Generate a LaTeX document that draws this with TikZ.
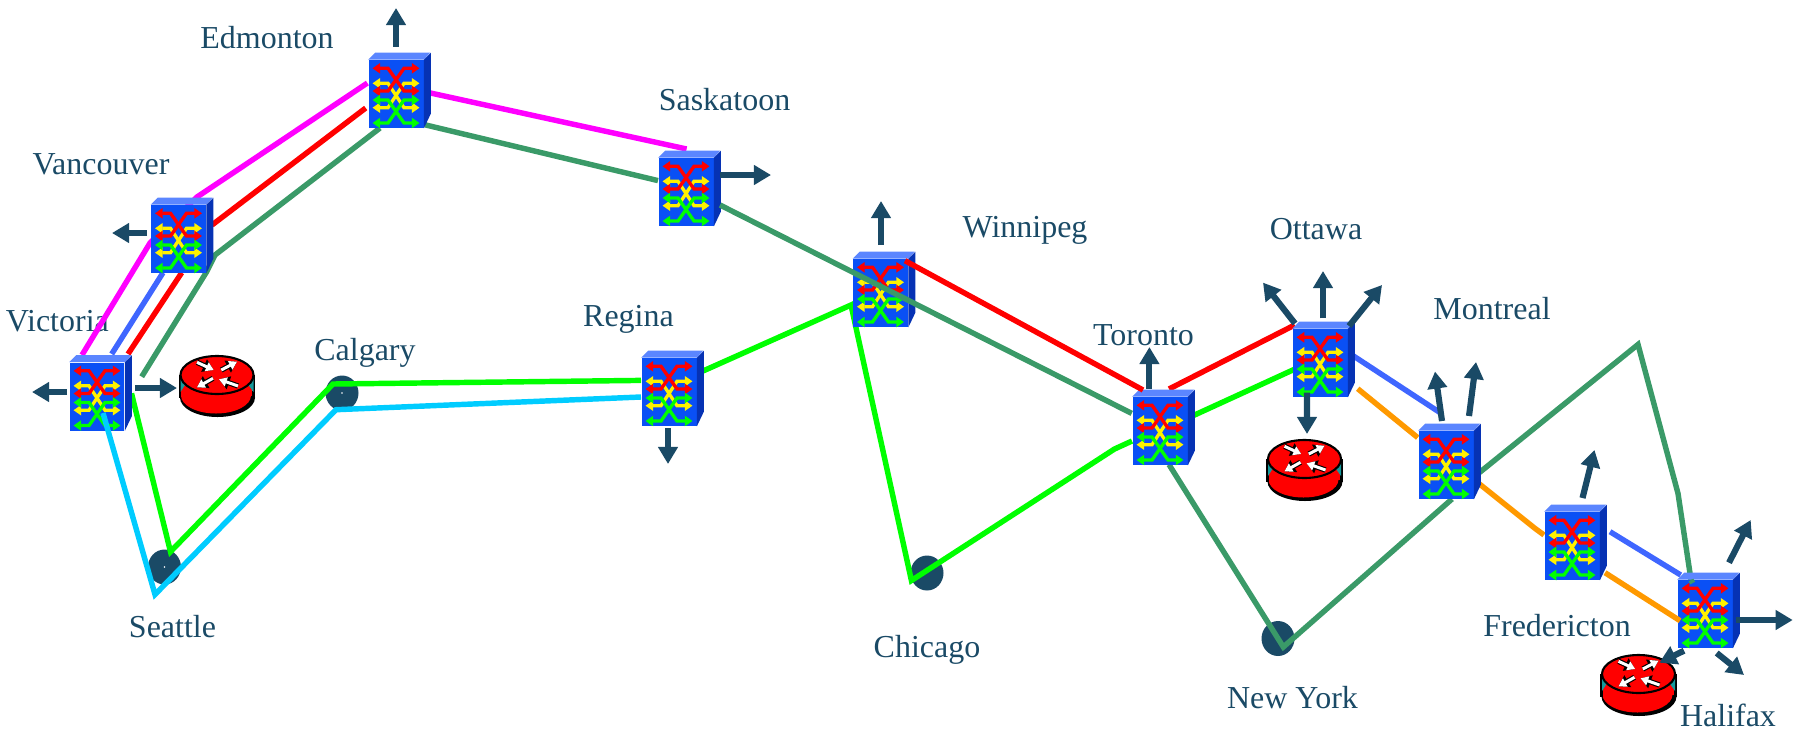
\documentclass[tikz,border=0pt]{standalone}
\usepackage{fontspec}
\setmainfont{Liberation Serif}
\usetikzlibrary{arrows.meta,shapes.geometric}
\pgfdeclarelayer{under}
\pgfsetlayers{under,main}
\definecolor{ink}{HTML}{1A4A66}
\definecolor{sg}{HTML}{3A9A68}
\definecolor{rb}{HTML}{3F66FF}
\definecolor{cy}{HTML}{00CCFF}
\definecolor{mg}{HTML}{FF00FF}
\definecolor{og}{HTML}{FF9900}
\definecolor{gn}{HTML}{00FF00}
\definecolor{rd}{HTML}{FF0000}
\definecolor{faceblue}{HTML}{0A50F5}
\definecolor{topblue}{HTML}{5B86FF}
\definecolor{sideblue}{HTML}{0632B4}
\definecolor{tealish}{HTML}{159A9C}
\tikzset{
  swbox/.style={rectangle,fill=faceblue,inner sep=0pt,minimum width=1.1cm,minimum height=1.36cm},
  rtbox/.style={rectangle,inner sep=0pt,minimum width=1.5cm,minimum height=1.22cm},
  city/.style={anchor=base,inner sep=0pt,text=ink,font=\fontsize{18.2}{20}\selectfont},
  disc/.style={ellipse,fill=ink,inner sep=0pt,minimum width=0.66cm,minimum height=0.70cm},
  link/.style={line width=3.1pt},
  outarrow/.style={draw=ink,line width=3.5pt,-{Triangle[length=9.7pt,width=10.8pt]}},
  xline/.style={line width=1.9pt,{Triangle[length=4.4pt,width=5.8pt]}-{Triangle[length=4.4pt,width=5.8pt]}},
  wblack/.style={draw=black,line width=3pt,-{Triangle[length=6pt,width=7.4pt]}},
  wwhite/.style={draw=white,line width=1.7pt,-{Triangle[length=4.4pt,width=5.2pt]}}
}
\newcommand\xglyph[3]{%
  \draw[xline,#1] (-23.5,#2) -- (-8,#2) -- (8,#3) -- (23.5,#3);
  \draw[xline,#1] (23.5,#2) -- (8,#2) -- (-8,#3) -- (-23.5,#3);
}
\newcommand\oxc[3]{%
  \node[swbox] (#1) at (#2,#3) {};
  \fill[topblue] (#1.north west) -- ++(7,-7) -- ++(55,0) -- (#1.north east) -- cycle;
  \fill[sideblue] (#1.north east) -- ++(7,-7) -- ++(0,61) -- (#1.south east) -- cycle;
  \begin{scope}[shift={(#1.center)}]
    \xglyph{yellow}{-10.7}{13.7}
    \xglyph{rd}{-25.7}{-3}
    \xglyph{gn}{6}{29}
  \end{scope}
}
\newcommand\routericon[3]{%
  \node[rtbox] (#1) at (#2,#3) {};
  \begin{scope}[shift={(#1.center)}]
    \fill[black] (0.5,11.5) ellipse [x radius=37.5, y radius=19.5];
    \fill[rd] (-1,9.5) ellipse [x radius=35, y radius=18];
    \fill[rd] (-36,-11) rectangle (35,10);
    \draw[line width=1.2pt] (-37,-11) -- (-37,12);
    \draw[line width=1.6pt] (37,-11) -- (37,12);
    \fill[tealish] (-36.5,-7) -- (-32,-1) -- (-36.5,6) -- cycle;
    \fill[tealish] (36.5,-7) -- (31.5,-1) -- (36.5,6) -- cycle;
    \draw[fill=rd,line width=1.2pt] (0,-11) ellipse [x radius=36.5, y radius=19];
    \foreach \ax/\ay/\bx/\by in {-20/-23.7/-3.3/-16, 4.3/-16/20/-24.3, -4/-7.7/-20/1.3, 21/0/2/-6.7}{
      \draw[wblack] (\ax,\ay) -- (\bx,\by);
      \draw[wwhite] (\ax,\ay) -- (\bx,\by);
    }
  \end{scope}
}
\begin{document}
\begin{tikzpicture}[x=0.02cm,y=-0.02cm]
\useasboundingbox (0,0) rectangle (1797,730);
% switches
\oxc{vic}{97}{396.5}
\oxc{van}{178.5}{239}
\oxc{edm}{396}{94}
\oxc{sas}{686}{192}
\oxc{reg}{669}{392}
\oxc{win}{880.5}{293}
\oxc{tor}{1160}{431}
\oxc{ott}{1320}{363}
\oxc{mon}{1446}{465}
\oxc{fre}{1572}{546}
\oxc{hal}{1705}{614}
% routers
\routericon{rv}{217}{386}
\routericon{ro}{1304.5}{470}
\routericon{rh}{1638.5}{685}
\begin{pgfonlayer}{under}
% labels
\node[city] (lEdm) at (267,48.9) {Edmonton};
\node[city] (lSas) at (724.5,110.8) {Saskatoon};
\node[city] (lVan) at (101,174.6) {Vancouver};
\node[city] (lVic) at (57.4,331.5) {Victoria};
\node[city] (lCal) at (365,360.8) {Calgary};
\node[city] (lReg) at (628.5,326) {Regina};
\node[city] (lSea) at (172.5,637.8) {Seattle};
\node[city] (lChi) at (927,657) {Chicago};
\node[city] (lWin) at (1025,237.4) {Winnipeg};
\node[city] (lOtt) at (1316,239.8) {Ottawa};
\node[city] (lTor) at (1143.5,345.4) {Toronto};
\node[city] (lMon) at (1492,319) {Montreal};
\node[city] (lFre) at (1557,636.4) {Fredericton};
\node[city] (lNY) at (1292.5,708.6) {New York};
\node[city] (lHal) at (1728,726) {Halifax};
% discs
\node[disc] (sea) at (164.5,567) {};
\node[disc] (cal) at (342,393) {};
\node[disc] (chi) at (927,573) {};
\node[disc] (ny) at (1278,638.5) {};
\fill[white] (sea.center) circle (0.8);
\fill[white] (cal.center) circle (0.8);
% links under the switches
\draw[link,mg] ([shift={(-15,-41.5)}]vic.center) -- (150,243) -- (197,197) -- ([shift={(-28.6,-11)}]edm.center);
\draw[link,mg] ([shift={(34.5,-1)}]edm.center) -- ([shift={(0.6,-43)}]sas.center);
\draw[link,rd] ([shift={(31,-42.5)}]vic.center) -- ([shift={(3.2,33.7)}]van.center);
\draw[link,rd] ([shift={(33.5,-14)}]van.center) -- ([shift={(-30.3,14)}]edm.center);
\draw[link,rb] ([shift={(14.7,-42.5)}]vic.center) -- ([shift={(-15.5,33.7)}]van.center);
\draw[link,sg] ([shift={(44.7,-19.8)}]vic.center) -- ([shift={(28.2,32.7)}]van.center) -- (215,255) -- ([shift={(-16,34)}]edm.center);
\draw[link,sg] ([shift={(29,30.8)}]edm.center) -- ([shift={(-28,-11.4)}]sas.center);
\draw[link,gn] ([shift={(34.5,-3.1)}]vic.center) -- ([shift={(6,-15.3)}]sea.center) -- ([shift={(-9,-9)}]cal.center) -- ([shift={(-28,-11.6)}]reg.center);
\draw[link,gn] ([shift={(34,-21)}]reg.center) -- ([shift={(-29.5,12)}]win.center) -- ([shift={(-15.6,7.5)}]chi.center) -- (1114.5,449) -- ([shift={(-28,10)}]tor.center);
\draw[link,rd] ([shift={(9,-42)}]tor.center) -- ([shift={(-25.3,-38)}]ott.center);
\draw[link,gn] ([shift={(33,-15.3)}]tor.center) -- ([shift={(-25,6)}]ott.center);
\draw[link,sg] ([shift={(9,33.6)}]tor.center) -- ([shift={(5.3,8.5)}]ny.center) -- ([shift={(6,34)}]mon.center);
\draw[link,sg] ([shift={(33.5,7.5)}]mon.center) -- (1638,344.5) -- (1678,493.5) -- ([shift={(-14,-34)}]hal.center);
\draw[link,og] ([shift={(37.7,25.7)}]ott.center) -- ([shift={(-28.3,-27.4)}]mon.center);
\draw[link,og] ([shift={(33.5,19)}]mon.center) -- (1535,528.4) -- ([shift={(-28,-11)}]fre.center);
\draw[link,rb] ([shift={(28,-10.6)}]ott.center) -- ([shift={(-5.4,-52)}]mon.center);
\draw[link,rb] ([shift={(38,-14.3)}]fre.center) -- ([shift={(-24.3,-39)}]hal.center);
\end{pgfonlayer}
% links over the switches
\draw[link,cy] ([shift={(6,16.5)}]vic.center) -- ([shift={(-9.5,27.5)}]sea.center) -- ([shift={(-6,16.7)}]cal.center) -- ([shift={(-28,5)}]reg.center);
\draw[link,sg] ([shift={(34,13)}]sas.center) -- ([shift={(-28.3,-17.6)}]tor.center);
\draw[link,rd] ([shift={(24.5,-32.3)}]win.center) -- ([shift={(-17,-41)}]tor.center);
\draw[link,og] ([shift={(33,26.7)}]fre.center) -- ([shift={(-25,6.7)}]hal.center);
\draw[link,sg] ([shift={(-14,-34)}]hal.center) -- ([shift={(-12.3,-31)}]hal.center);
% outgoing arrows
\draw[outarrow] ([shift={(-30,-4.5)}]vic.center) -- ([shift={(-65,-4.5)}]vic.center);
\draw[outarrow] ([shift={(38,-8.5)}]vic.center) -- ([shift={(-40,2)}]rv.center);
\draw[outarrow] ([shift={(-31.5,-6)}]van.center) -- ([shift={(-66.5,-6)}]van.center);
\draw[outarrow] ([shift={(0,-47.5)}]edm.center) -- ([shift={(0,-86)}]edm.center);
\draw[outarrow] ([shift={(34,-17)}]sas.center) -- ([shift={(85,-17)}]sas.center);
\draw[outarrow] ([shift={(-1,36)}]reg.center) -- ([shift={(-1,72)}]reg.center);
\draw[outarrow] ([shift={(0.5,-48)}]win.center) -- ([shift={(0.5,-92)}]win.center);
\draw[outarrow] ([shift={(-10.6,-42)}]tor.center) -- ([shift={(-10.6,-84)}]tor.center);
\draw[outarrow] ([shift={(-25,-39.5)}]ott.center) -- ([shift={(-57,-80.4)}]ott.center);
\draw[outarrow] ([shift={(3,-44.6)}]ott.center) -- ([shift={(3,-92)}]ott.center);
\draw[outarrow] ([shift={(29,-37)}]ott.center) -- ([shift={(62,-78)}]ott.center);
\draw[outarrow] ([shift={(-13,29.5)}]ott.center) -- ([shift={(2.5,-36)}]ro.center);
\draw[outarrow] ([shift={(-4,-44)}]mon.center) -- ([shift={(-11,-93.5)}]mon.center);
\draw[outarrow] ([shift={(23,-49)}]mon.center) -- ([shift={(30,-103)}]mon.center);
\draw[outarrow] ([shift={(10.5,-48)}]fre.center) -- ([shift={(22.5,-96)}]fre.center);
\draw[outarrow] ([shift={(24,-51.3)}]hal.center) -- ([shift={(45.7,-94)}]hal.center);
\draw[outarrow] ([shift={(30.7,6)}]hal.center) -- ([shift={(87.7,6)}]hal.center);
\draw[outarrow] ([shift={(11.7,39)}]hal.center) -- ([shift={(39,61)}]hal.center);
\draw[outarrow] ([shift={(-21,36.7)}]hal.center) -- ([shift={(20.8,-22.3)}]rh.center);
\end{tikzpicture}
\end{document}
